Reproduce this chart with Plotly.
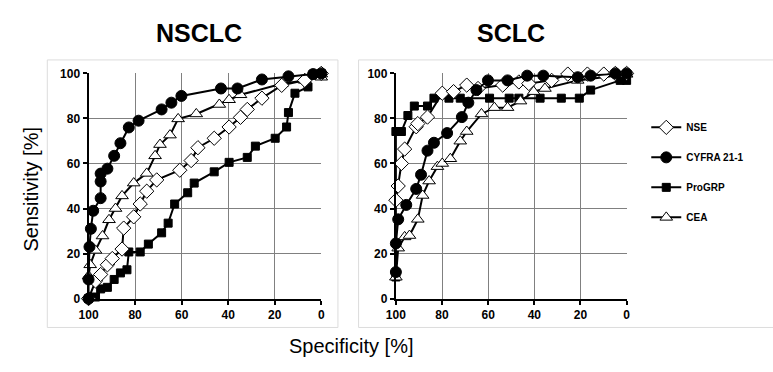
import plotly.graph_objects as go

W, H = 773, 372

series_names = ["NSE", "CYFRA 21-1", "ProGRP", "CEA"]

# ---- NSCLC data (specificity %, sensitivity %) ----
nsclc_nse_spec = [100, 97, 94.8, 91.9, 89.8, 85.6, 84.9, 80.6, 77.8, 75, 70.7, 60.8, 55.9, 53, 46, 39.6, 34.7, 31.8, 25.5, 17, 7.1, 0]
nsclc_nse_sens = [0, 7.8, 10.7, 15, 17.8, 22, 31.3, 36.3, 42, 47.7, 52.7, 57, 61.3, 67, 71.2, 76.2, 80.5, 84, 89, 94.7, 96.9, 100]

nsclc_cyfra_spec = [100, 100, 99.6, 99, 98, 94.8, 94.8, 94.8, 91.9, 89, 86.3, 82.7, 78.5, 68.6, 64.4, 60.1, 43.1, 36, 25.5, 14.1, 3.5, 0]
nsclc_cyfra_sens = [0, 8.5, 23, 31, 39, 44.6, 52, 55.5, 57.7, 63.4, 69, 76, 79, 84, 87, 90, 93.3, 93.3, 97.3, 98.7, 99.7, 100]

nsclc_progrp_spec = [100, 97, 94.8, 91.9, 89, 86.3, 83.5, 82.7, 77.8, 74.3, 68.6, 65.8, 63, 57.4, 54.6, 46, 39.6, 31.8, 28.3, 19.8, 14.9, 14.1, 11.3, 5.7, 3.5, 0]
nsclc_progrp_sens = [0, 0.7, 4.3, 5, 8.5, 11.4, 12.8, 20.7, 20.7, 24.2, 29.2, 33.5, 42, 47, 51.3, 56.3, 60.5, 62.7, 67.7, 71.2, 76.2, 82.6, 91.2, 94, 99.7, 100]

nsclc_cea_spec = [100, 99.3, 97, 94, 91.2, 88.4, 85.6, 80.6, 75, 71.4, 69.3, 65, 61.5, 53.7, 43.8, 39.6, 34.7, 17, 7.1, 0, 0]
nsclc_cea_sens = [10, 15, 21.4, 27.8, 35, 40, 45.6, 51.3, 55.6, 63.4, 68.4, 72.6, 79.8, 82, 86.2, 88.3, 90.5, 95.4, 96.9, 98.3, 99.7]

# ---- SCLC data ----
sclc_nse_spec = [100, 99, 97.6, 96.2, 91.2, 90.5, 86.3, 79.9, 75, 69.3, 64.4, 53.7, 46.7, 42.4, 32.5, 25.5, 17, 9.9, 4.9, 0]
sclc_nse_sens = [43.7, 50, 60, 66.4, 76.3, 77.7, 80.6, 91.2, 91.9, 94.8, 93.3, 94.8, 96.2, 95.5, 96.9, 99.7, 99.7, 99.7, 100, 100]

sclc_cyfra_spec = [100, 100, 99, 95.5, 91.2, 89.1, 86.3, 83.5, 77.8, 71.4, 68.6, 65.1, 60.1, 51.6, 43.1, 36.1, 21.2, 15.6, 4.9, 0]
sclc_cyfra_sens = [11.8, 24.5, 35.2, 41.6, 48.7, 55, 65.7, 69.2, 73.5, 80.6, 87, 92.6, 96.9, 96.9, 99, 99, 98.3, 99, 100, 100]

sclc_progrp_spec = [100, 100, 97.6, 94.8, 92, 86.3, 83.5, 77, 72.1, 59.4, 50.9, 46.7, 37.5, 28.3, 20.5, 15.6, 2.8, 0]
sclc_progrp_sens = [9.6, 74.2, 74.2, 81.3, 85.5, 85.5, 89, 89, 89, 89, 89, 89, 89, 89, 89, 92.6, 96.9, 96.9]

sclc_cea_spec = [100, 99, 96.2, 94.1, 90.5, 88.4, 85.6, 82, 79.9, 76.4, 72.1, 69.3, 62.9, 57.3, 51.6, 46, 40.3, 35.4, 21.2, 0]
sclc_cea_sens = [9.5, 22.4, 27.4, 28, 35.2, 45.8, 52.2, 58.6, 60, 62.1, 69.9, 74.2, 82, 84.8, 84.8, 87.7, 91.9, 93.3, 96.9, 99.6]

tick_vals = [100, 80, 60, 40, 20, 0]
tick_text = ["100", "80", "60", "40", "20", "0"]

panel_titles = ["NSCLC", "SCLC"]
x_title = "Specificity [%]"
y_title = "Sensitivity [%]"

nsclc = [(nsclc_nse_spec, nsclc_nse_sens), (nsclc_cyfra_spec, nsclc_cyfra_sens),
         (nsclc_progrp_spec, nsclc_progrp_sens), (nsclc_cea_spec, nsclc_cea_sens)]
sclc = [(sclc_nse_spec, sclc_nse_sens), (sclc_cyfra_spec, sclc_cyfra_sens),
        (sclc_progrp_spec, sclc_progrp_sens), (sclc_cea_spec, sclc_cea_sens)]

styles = {
    "NSE": dict(symbol="diamond", color="white", size=11),
    "CYFRA 21-1": dict(symbol="circle", color="black", size=11),
    "ProGRP": dict(symbol="square", color="black", size=8),
    "CEA": dict(symbol="triangle-up", color="white", size=11),
}

def px(x):
    return x / W

def py(y):
    return 1 - y / H

fig = go.Figure()

order = [2, 3, 0, 1]
for panel, data in enumerate([nsclc, sclc]):
    xa = "x" if panel == 0 else "x2"
    ya = "y" if panel == 0 else "y2"
    for i in order:
        name = series_names[i]
        st = styles[name]
        spec, sens = data[i]
        fig.add_trace(go.Scatter(
            x=spec, y=sens, mode="lines+markers", name=name,
            xaxis=xa, yaxis=ya, cliponaxis=False,
            legendgroup=name, legendrank=i + 1, showlegend=(panel == 0),
            line=dict(color="black", width=2),
            marker=dict(symbol=st["symbol"], color=st["color"], size=st["size"],
                        line=dict(color="black", width=1)),
        ))

axis_font = dict(family="Liberation Sans, Arial, sans-serif", size=12, color="black", weight="bold")
common_x = dict(range=[100, 0], tickvals=tick_vals, ticktext=tick_text, showgrid=True,
                gridcolor="#808080", gridwidth=1, showline=True, linecolor="black", linewidth=2,
                ticks="outside", ticklen=4, tickwidth=2, tickcolor="black", tickfont=axis_font,
                zeroline=False, fixedrange=True)
common_y = dict(range=[0, 100], tickvals=tick_vals, ticktext=tick_text, showgrid=True,
                gridcolor="#808080", gridwidth=1, showline=True, linecolor="black", linewidth=2,
                ticks="outside", ticklen=4, tickwidth=2, tickcolor="black", tickfont=axis_font,
                zeroline=False, fixedrange=True)

y_dom = [py(303), py(69)]
fig.update_layout(
    width=W, height=H,
    margin=dict(l=0, r=0, t=0, b=0),
    paper_bgcolor="white", plot_bgcolor="white",
    xaxis=dict(domain=[px(80), px(317)], anchor="y", **common_x),
    yaxis=dict(domain=y_dom, anchor="x", **common_y),
    xaxis2=dict(domain=[px(393), px(628)], anchor="y2", **common_x),
    yaxis2=dict(domain=y_dom, anchor="x2", **common_y),
    showlegend=True,
    legend=dict(x=px(648), y=py(110), xanchor="left", yanchor="top",
                font=dict(family="Liberation Sans, Arial, sans-serif", size=10, color="black", weight="bold"),
                tracegroupgap=11, bgcolor="rgba(0,0,0,0)", itemwidth=30),
)

fig.add_shape(type="rect", xref="paper", yref="paper", x0=px(38), x1=px(334), y0=py(333), y1=py(55),
              line=dict(color="#dcdcdc", width=1), layer="below")
fig.add_shape(type="rect", xref="paper", yref="paper", x0=px(355), x1=px(790), y0=py(333), y1=py(55),
              line=dict(color="#dcdcdc", width=1), layer="below")

title_font = dict(family="Liberation Sans, Arial, sans-serif", size=25, color="black", weight="bold")
fig.add_annotation(text=panel_titles[0], x=px(192), y=py(27), xref="paper", yref="paper",
                   showarrow=False, font=title_font, xanchor="center", yanchor="middle")
fig.add_annotation(text=panel_titles[1], x=px(510), y=py(27), xref="paper", yref="paper",
                   showarrow=False, font=title_font, xanchor="center", yanchor="middle")

lab_font = dict(family="Liberation Sans, Arial, sans-serif", size=20, color="black")
fig.add_annotation(text=x_title, x=px(347), y=py(352), xref="paper", yref="paper",
                   showarrow=False, font=lab_font, xanchor="center", yanchor="middle")
fig.add_annotation(text=y_title, x=px(21), y=py(190), xref="paper", yref="paper",
                   showarrow=False, font=lab_font, xanchor="center", yanchor="middle", textangle=-90)

fig.write_html("out.html", config={"displayModeBar": False},
               post_script="document.body.style.margin='0px';")
